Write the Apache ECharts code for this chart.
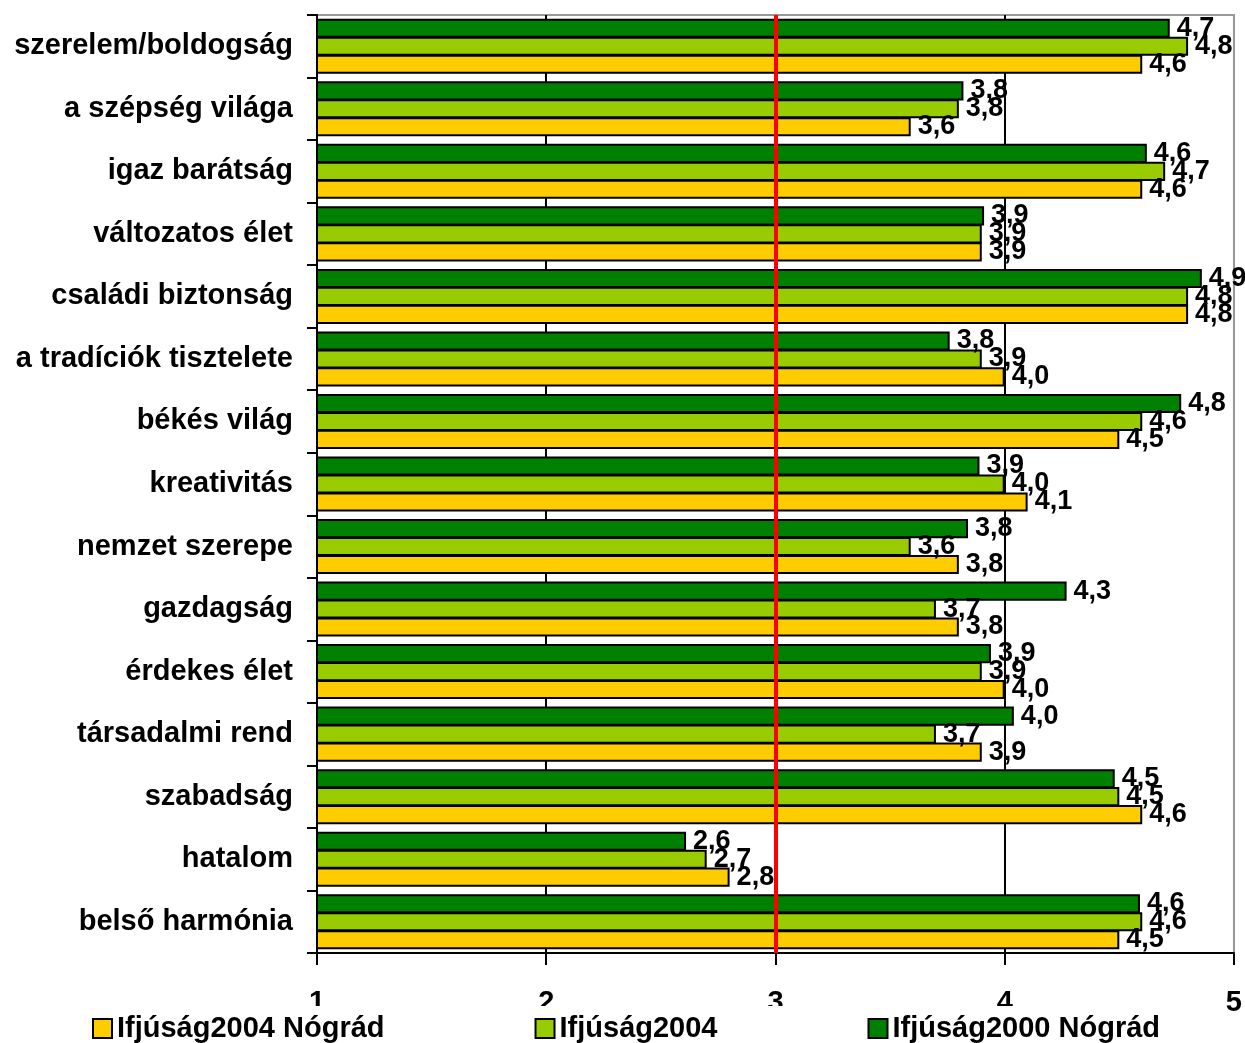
<!DOCTYPE html>
<html>
<head>
<meta charset="utf-8">
<script src="https://cdn.jsdelivr.net/npm/echarts@6/dist/echarts.min.js"></script>
<style>html,body{margin:0;padding:0;background:#fff;}#chart{width:1245px;height:1043px;}</style>
</head>
<body>
<div id="chart"></div>
<script>
var categories = ['szerelem/boldogság','a szépség világa','igaz barátság','változatos élet','családi biztonság','a tradíciók tisztelete','békés világ','kreativitás','nemzet szerepe','gazdagság','érdekes élet','társadalmi rend','szabadság','hatalom','belső harmónia'];
var seriesNames = ['Ifjúság2004 Nógrád','Ifjúság2004','Ifjúság2000 Nógrád'];
var ifj2000Nograd = [4.72,3.82,4.62,3.91,4.86,3.76,4.77,3.89,3.84,4.27,3.94,4.04,4.48,2.61,4.59];
var ifj2004 = [4.80,3.80,4.70,3.90,4.80,3.90,4.60,4.00,3.59,3.70,3.90,3.70,4.50,2.70,4.60];
var ifj2004Nograd = [4.60,3.59,4.60,3.90,4.80,4.00,4.50,4.10,3.80,3.80,4.00,3.90,4.60,2.80,4.50];
var xTicks = [1,2,3,4,5];
var refValue = 3;

var FONT = 'Liberation Sans, Arial, sans-serif';
var chart = echarts.init(document.getElementById('chart'), null, {renderer:'canvas'});
function lbl(p){ return p.value.toFixed(1).replace('.', ','); }
function mk(name, data, color, withMark){
  var s = {
    name: name, type: 'bar', data: data,
    barGap: '-6%', barCategoryGap: '12%',
    itemStyle: {color: color, borderColor: '#000', borderWidth: 2},
    label: {show: true, position: 'right', distance: 7, formatter: lbl,
      fontFamily: FONT, fontWeight: 'bold', fontSize: 27, color: '#000'},
    emphasis: {disabled: true}
  };
  if (withMark) {
    s.markLine = {silent: true, symbol: 'none', label: {show: false},
      lineStyle: {color: '#ff0000', width: 4, type: 'solid'},
      data: [{xAxis: refValue}], z: 10};
  }
  return s;
}
chart.setOption({
  animation: false,
  backgroundColor: '#fff',
  grid: {left: 317, right: 11, top: 15, bottom: 90, show: true, borderColor: '#999', borderWidth: 2, backgroundColor: 'transparent'},
  legend: {
    data: seriesNames, top: 1006, left: 84,
    padding: [8, 10, 6, 8], backgroundColor: '#fff',
    icon: 'rect',
    itemWidth: 19, itemHeight: 19, itemGap: 150, itemStyle: {borderColor: '#000', borderWidth: 2},
    textStyle: {fontFamily: FONT, fontWeight: 'bold', fontSize: 29, color: '#000'},
    selectedMode: false
  },
  xAxis: {
    type: 'value', min: 1, max: 5, interval: 1,
    axisLine: {show: true, lineStyle: {color: '#000', width: 2}},
    axisTick: {show: true, length: 12, lineStyle: {color: '#000', width: 2}},
    axisLabel: {margin: 35, fontFamily: FONT, fontWeight: 'bold', fontSize: 29, color: '#000',
      formatter: function(v){ return xTicks.indexOf(v) >= 0 ? String(v) : ''; }},
    splitLine: {show: true, lineStyle: {color: ['#000','#000','#000','#000','#999'], width: 2}}
  },
  yAxis: {
    type: 'category', data: categories, inverse: true,
    axisLine: {show: true, lineStyle: {color: '#000', width: 2}},
    axisTick: {show: true, length: 10, lineStyle: {color: '#000', width: 2}},
    axisLabel: {margin: 24, fontFamily: FONT, fontWeight: 'bold', fontSize: 29, color: '#000'},
    splitLine: {show: false}
  },
  series: [
    mk(seriesNames[2], ifj2000Nograd, '#008000', true),
    mk(seriesNames[1], ifj2004, '#99cc00', false),
    mk(seriesNames[0], ifj2004Nograd, '#ffcc00', false)
  ]
});
</script>
</body>
</html>
